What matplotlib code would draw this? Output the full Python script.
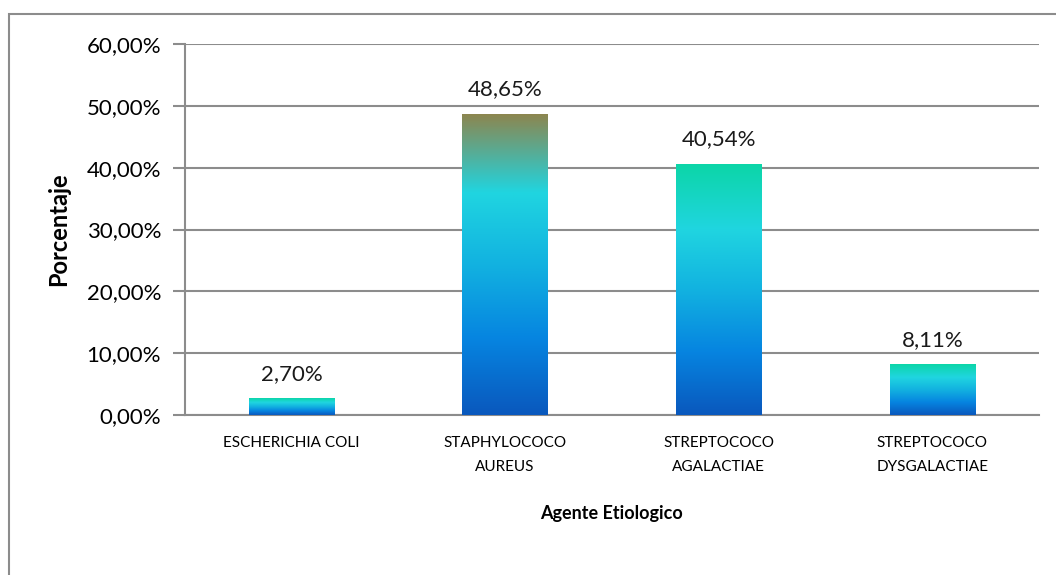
import numpy as np
import matplotlib.pyplot as plt
from matplotlib.colors import LinearSegmentedColormap
from matplotlib.patches import Rectangle
from matplotlib.ticker import FuncFormatter

# datos
categorias = ['ESCHERICHIA COLI', 'STAPHYLOCOCO\nAUREUS', 'STREPTOCOCO\nAGALACTIAE', 'STREPTOCOCO\nDYSGALACTIAE']
porcentajes = [2.70, 48.65, 40.54, 8.11]
etiquetas = ['2,70%', '48,65%', '40,54%', '8,11%']
color_tope = ['#0cd6a8', '#8c8650', '#0cd6a8', '#0cd6a8']

plt.rcParams['font.family'] = ['Lato', 'DejaVu Sans']

fig = plt.figure(figsize=(10.56, 5.75), dpi=100)
ax = fig.add_axes([0.175, 0.278, 0.809, 0.6455])

# marco exterior del grafico
fig.patches.append(Rectangle((9 / 1056, -0.1), 2.0, (575 - 14) / 575 + 0.1,
                             transform=fig.transFigure, fill=False,
                             edgecolor='#8c8c8c', linewidth=1.5))

x = np.arange(len(categorias))
bars = ax.bar(x, porcentajes, width=0.4, color='none', edgecolor='none', zorder=3)

# relleno degradado de cada barra
for b, tope in zip(bars, color_tope):
    cmap = LinearSegmentedColormap.from_list('g', [
        (0.0, '#0a58bd'), (0.25, '#0684e0'), (0.5, '#12b2e0'),
        (0.74, '#20d5e0'), (1.0, tope)])
    x0, w, h = b.get_x(), b.get_width(), b.get_height()
    grad = np.linspace(0, 1, 256).reshape(-1, 1)
    ax.imshow(grad, cmap=cmap, origin='lower', aspect='auto',
              extent=(x0, x0 + w, 0, h), zorder=3)

for xi, v, t in zip(x, porcentajes, etiquetas):
    ax.text(xi, v + 2.4, t, ha='center', va='bottom', fontsize=16, color='#1a1a1a')

ax.set_xlim(-0.5, len(categorias) - 0.5)
ax.set_ylim(0, 60)
ax.set_yticks(np.arange(0, 61, 10))
ax.yaxis.set_major_formatter(FuncFormatter(lambda v, p: ('%.2f%%' % v).replace('.', ',')))
ax.set_xticks(x)
ax.set_xticklabels(categorias, fontsize=11, linespacing=1.95)
ax.tick_params(axis='y', labelsize=16, length=9, color='#8c8c8c', width=1.5, pad=8)
ax.tick_params(axis='x', length=0, pad=15)

ax.grid(axis='y', color='#8c8c8c', linewidth=1.5, zorder=0)
ax.set_axisbelow(True)
for s in ['top', 'right']:
    ax.spines[s].set_visible(False)
for s in ['left', 'bottom']:
    ax.spines[s].set_color('#8c8c8c')
    ax.spines[s].set_linewidth(1.5)

ax.set_ylabel('Porcentaje', fontsize=17, fontweight='bold')
ax.set_xlabel('Agente Etiologico', fontsize=13, fontweight='bold')
ax.yaxis.set_label_coords(-0.134, 0.5)
ax.xaxis.set_label_coords(0.5, -0.243)

fig.savefig('out.png', dpi=100)
